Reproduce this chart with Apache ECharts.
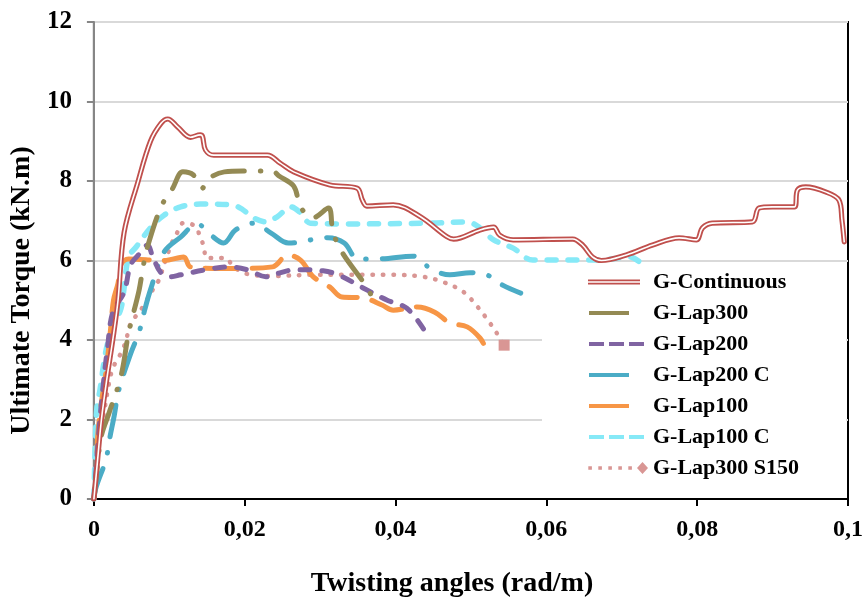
<!DOCTYPE html>
<html>
<head>
<meta charset="utf-8">
<script src="https://cdn.jsdelivr.net/npm/echarts@6/dist/echarts.min.js"></script>
<style>
html,body{margin:0;padding:0;background:#fff;}
#chart{width:866px;height:603px;}
</style>
</head>
<body>
<div id="chart"></div>
<script>
// ---- data ----
var seriesNames = ['G-Continuous','G-Lap300','G-Lap200','G-Lap200 C','G-Lap100','G-Lap100 C','G-Lap300 S150'];
var xTickLabels = ['0','0,02','0,04','0,06','0,08','0,1'];
var yTickLabels = ['0','2','4','6','8','10','12'];

var contX = [0,0.0005,0.001,0.0017,0.0025,0.0032,0.004,0.0058,0.0075,0.0089,0.0098,0.0111,0.0128,0.0141,0.0144,0.0148,0.0159,0.023,0.0247,0.0265,0.0313,0.0349,0.0356,0.0362,0.0397,0.0433,0.0468,0.0477,0.0512,0.053,0.0538,0.0556,0.0635,0.0648,0.0661,0.0673,0.0706,0.0741,0.0776,0.0799,0.0807,0.082,0.0873,0.0882,0.09,0.0929,0.0933,0.0944,0.0971,0.0988,0.0992,0.0995];
var contY = [0,1.0,2.0,3.0,4.0,5.0,6.7,7.95,9.0,9.45,9.56,9.36,9.1,9.16,9.12,8.78,8.65,8.65,8.45,8.23,7.9,7.82,7.52,7.37,7.4,7.1,6.6,6.54,6.77,6.84,6.64,6.52,6.54,6.39,6.09,6.0,6.14,6.39,6.57,6.52,6.82,6.94,6.97,7.32,7.35,7.35,7.77,7.85,7.72,7.52,7.02,6.47];

var lap300X = [0,0.0005,0.001,0.002,0.0036,0.0046,0.006,0.0065,0.0071,0.0089,0.0104,0.0118,0.0132,0.0144,0.0149,0.0173,0.0198,0.0237,0.0245,0.0265,0.0274,0.029,0.0311,0.0317,0.0329,0.036,0.0373];
var lap300Y = [0,0.9,1.6,2.16,3.1,4.17,5.26,5.81,6.34,7.35,7.8,8.23,8.15,7.82,8.02,8.23,8.25,8.25,8.13,7.87,7.35,7.07,7.32,6.72,6.21,5.38,4.93];

var lap200X = [0,0.0003,0.0007,0.0012,0.0018,0.0025,0.004,0.0049,0.0062,0.0071,0.0078,0.0089,0.0102,0.0115,0.0155,0.0179,0.0205,0.0228,0.0245,0.0267,0.0304,0.0324,0.0357,0.0389,0.0415,0.0437];
var lap200Y = [0,0.8,1.8,2.8,3.8,4.7,5.2,5.9,6.2,6.39,6.1,5.69,5.59,5.64,5.79,5.84,5.76,5.59,5.68,5.77,5.74,5.64,5.31,5.0,4.8,4.28];

var lap200cX = [0,0.0003,0.0016,0.0021,0.0027,0.0033,0.0049,0.006,0.0067,0.0075,0.0093,0.0115,0.0137,0.0155,0.0172,0.0188,0.0212,0.0235,0.0258,0.031,0.0332,0.035,0.0377,0.0423,0.0447,0.0472,0.0499,0.0521,0.0542,0.0566];
var lap200cY = [0,0.3,1.0,1.53,2.1,2.74,3.67,4.2,4.73,5.26,6.21,6.59,6.92,6.64,6.44,6.77,6.94,6.69,6.44,6.57,6.44,6.04,6.04,6.11,5.79,5.64,5.69,5.64,5.38,5.18];

var lap100X = [0,0.0003,0.0005,0.0009,0.0016,0.0022,0.0026,0.0032,0.0036,0.0046,0.0093,0.0119,0.0128,0.0164,0.0188,0.0237,0.0257,0.0274,0.0291,0.0313,0.0329,0.0357,0.0382,0.0397,0.0429,0.0452,0.0472,0.0495,0.0512,0.0519];
var lap100Y = [0,0.5,1.56,2.3,3.2,4.25,5.0,5.43,5.9,6.04,6.0,6.09,5.84,5.8,5.8,5.84,6.14,6.01,5.59,5.33,5.08,5.06,4.88,4.75,4.83,4.7,4.43,4.33,4.05,3.82];

var lap100cX = [0,0.0002,0.0004,0.0008,0.0013,0.0018,0.0025,0.0036,0.004,0.0046,0.0056,0.0075,0.0093,0.0115,0.0141,0.0184,0.0198,0.0212,0.0228,0.0243,0.0261,0.0274,0.0287,0.0336,0.0446,0.0495,0.0512,0.053,0.0556,0.0582,0.0671,0.071,0.0724,0.073];
var lap100cY = [0,1.5,2.3,2.74,3.4,3.9,4.3,4.8,5.3,6.09,6.34,6.82,7.14,7.35,7.42,7.4,7.27,7.07,6.97,7.1,7.35,7.2,6.94,6.92,6.94,6.97,6.82,6.52,6.31,6.01,6.01,6.09,5.96,5.8];

var s150X = [0,0.0005,0.0012,0.0018,0.0023,0.0029,0.0036,0.0042,0.0049,0.006,0.0069,0.0075,0.0085,0.0095,0.0104,0.0111,0.0118,0.0124,0.0135,0.0141,0.0146,0.0149,0.0159,0.0175,0.0185,0.0204,0.0238,0.0291,0.0397,0.0437,0.0463,0.049,0.0509,0.0525,0.0534,0.0544];
var s150Y = [0,1.16,2.0,2.7,3.17,3.45,3.67,3.95,4.43,4.7,4.96,5.18,5.46,6.01,6.47,6.72,6.94,6.94,6.84,6.59,6.34,6.06,6.06,6.06,5.84,5.66,5.61,5.64,5.64,5.59,5.46,5.21,4.83,4.43,4.18,3.87];

// ---- helpers ----
function pairs(xs, ys){ return xs.map(function(x,i){ return [x, ys[i]]; }); }
var FONT = '"Liberation Serif", "DejaVu Serif", serif';

var anchor = 'M0,0L0,0Z M60,12L60,12Z ';
var iconDouble = 'path://' + anchor + 'M0,3.5H52V5.3H0Z M0,6.7H52V8.5H0Z';
var iconSolid = 'path://' + anchor + 'M1,4H41V8H1Z';
var iconDash = 'path://' + anchor + 'M1,4H16V8H1Z M21,4H36V8H21Z M41,4H56V8H41Z';
var iconDots = 'path://' + anchor + 'M0.3,4.2h3.6v3.6h-3.6Z M10.3,4.2h3.6v3.6h-3.6Z M20.3,4.2h3.6v3.6h-3.6Z M30.3,4.2h3.6v3.6h-3.6Z M40.3,4.2h3.6v3.6h-3.6Z M54.5,0L60,6L54.5,12L49,6Z';

var s150Data = pairs(s150X, s150Y).map(function(p, i, arr){
  if (i === arr.length - 1) return { value: p, symbol: 'rect', symbolSize: 11 };
  return { value: p, symbol: 'none' };
});

function lineSeries(name, data, color, width, dash, extra){
  var s = {
    name: name, type: 'line', data: data,
    symbol: 'none', showSymbol: false,
    smooth: 0.35,
    lineStyle: { color: color, width: width, type: dash, cap: 'round', join: 'round' },
    itemStyle: { color: color },
    emphasis: { disabled: true },
    z: 2
  };
  if (extra) for (var k in extra) s[k] = extra[k];
  return s;
}

var chart = echarts.init(document.getElementById('chart'), null, { renderer: 'canvas' });
chart.setOption({
  animation: false,
  backgroundColor: '#ffffff',
  grid: { left: 93, right: 17, top: 22, bottom: 104, show: true, borderColor: '#000000', borderWidth: 2, backgroundColor: 'transparent' },
  xAxis: {
    type: 'value', min: 0, max: 0.1, interval: 0.02,
    name: 'Twisting angles (rad/m)', nameLocation: 'middle', nameGap: 71,
    nameTextStyle: { fontFamily: FONT, fontWeight: 'bold', fontSize: 28, color: '#000', padding: [0, 38, 0, 0] },
    axisLine: { show: true, lineStyle: { color: '#000', width: 2 } },
    axisTick: { show: true, length: 7, lineStyle: { color: '#000', width: 2 } },
    axisLabel: { margin: 19, fontFamily: FONT, fontWeight: 'bold', fontSize: 24, color: '#000',
      formatter: function(v){ return xTickLabels[Math.round(v / 0.02)]; } },
    splitLine: { show: false }
  },
  yAxis: {
    type: 'value', min: 0, max: 12, interval: 2,
    name: 'Ultimate Torque (kN.m)', nameLocation: 'middle', nameGap: 54, nameRotate: 90,
    nameTextStyle: { fontFamily: FONT, fontWeight: 'bold', fontSize: 28, color: '#000', padding: [0, 60, 0, 0] },
    axisLine: { show: true, lineStyle: { color: '#868686', width: 2 } },
    axisTick: { show: true, length: 7, lineStyle: { color: '#868686', width: 2 } },
    axisLabel: { margin: 22, fontFamily: FONT, fontWeight: 'bold', fontSize: 25, color: '#000',
      formatter: function(v){ return yTickLabels[Math.round(v / 2)]; } },
    splitLine: { show: true, lineStyle: { color: '#d9d9d9', width: 2 } }
  },
  legend: {
    orient: 'vertical', left: 542, top: 265,
    padding: [5, 47, 5, 46],
    backgroundColor: '#ffffff',
    itemWidth: 60, itemHeight: 12, itemGap: 7,
    itemStyle: { borderWidth: 0 },
    textStyle: { fontFamily: FONT, fontWeight: 'bold', fontSize: 22, color: '#000', lineHeight: 24 },
    selectedMode: false,
    data: [
      { name: seriesNames[0], icon: iconDouble },
      { name: seriesNames[1], icon: iconSolid },
      { name: seriesNames[2], icon: iconDash },
      { name: seriesNames[3], icon: iconSolid },
      { name: seriesNames[4], icon: iconSolid },
      { name: seriesNames[5], icon: iconDash },
      { name: seriesNames[6], icon: iconDots }
    ],
    z: 10
  },
  series: [
    lineSeries(seriesNames[5], pairs(lap100cX, lap100cY), '#86e9f7', 5.5, [9, 12]),
    lineSeries(seriesNames[6], s150Data, '#d99694', 4.5, [0.5, 10], { showSymbol: true }),
    lineSeries(seriesNames[4], pairs(lap100X, lap100Y), '#f79646', 5, [32, 15]),
    lineSeries(seriesNames[3], pairs(lap200cX, lap200cY), '#4bacc6', 5, [32, 16, 0.5, 16]),
    lineSeries(seriesNames[2], pairs(lap200X, lap200Y), '#8064a2', 5, [10, 12]),
    lineSeries(seriesNames[1], pairs(lap300X, lap300Y), '#948a54', 5, [32, 16, 0.5, 16]),
    lineSeries(seriesNames[0], pairs(contX, contY), '#c0504d', 5.2, 'solid', { z: 3 }),
    lineSeries('G-Continuous inner', pairs(contX, contY), '#ffffff', 1.6, 'solid', { z: 4 })
  ]
});
</script>
</body>
</html>
